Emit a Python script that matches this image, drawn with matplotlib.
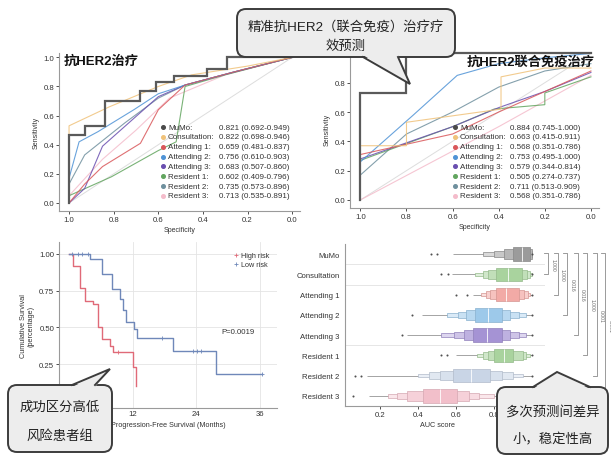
import matplotlib
matplotlib.use('Agg')
import matplotlib.pyplot as plt
from matplotlib.patches import FancyBboxPatch, Polygon
from matplotlib.lines import Line2D
from matplotlib.ticker import FormatStrFormatter
import numpy as np

plt.rcParams['font.family'] = ['Liberation Sans', 'Noto Sans CJK SC', 'DejaVu Sans']

# ------------------------------------------------------------------ data
roc_names = ["MuMo:", "Consultation:", "Attending 1:", "Attending 2:", "Attending 3:",
             "Resident 1:", "Resident 2:", "Resident 3:"]
auc_her2 = ["0.821 (0.692-0.949)", "0.822 (0.698-0.946)", "0.659 (0.481-0.837)",
            "0.756 (0.610-0.903)", "0.683 (0.507-0.860)", "0.602 (0.409-0.796)",
            "0.735 (0.573-0.896)", "0.713 (0.535-0.891)"]
auc_combo = ["0.884 (0.745-1.000)", "0.663 (0.415-0.911)", "0.568 (0.351-0.786)",
             "0.753 (0.495-1.000)", "0.579 (0.344-0.814)", "0.505 (0.274-0.737)",
             "0.711 (0.513-0.909)", "0.568 (0.351-0.786)"]
roc_colors = ['#4a4a4a', '#f0c27a', '#d9575a', '#4f93d6', '#6a4fb0', '#62a55f', '#6f909e', '#f4bccb']

# anti-HER2 panel (specificity, sensitivity)
h_mumo_sp = [1, 1, 0.93, 0.93, 0.84, 0.84, 0.68, 0.68, 0.61, 0.61, 0.53, 0.53, 0.38, 0.38, 0.29, 0.29, 0.0]
h_mumo_se = [0, 0.47, 0.47, 0.53, 0.53, 0.70, 0.70, 0.77, 0.77, 0.83, 0.83, 0.87, 0.87, 0.92, 0.92, 1.0, 1.0]
h_cons_sp = [1, 1, 0.82, 0.60, 0.45, 0.20, 0.0]
h_cons_se = [0, 0.53, 0.66, 0.80, 0.88, 0.94, 1.0]
h_att1_sp = [1, 0.93, 0.85, 0.68, 0.60, 0.48, 0.26, 0.0]
h_att1_se = [0, 0.13, 0.25, 0.41, 0.64, 0.81, 0.90, 1.0]
h_att2_sp = [1, 1, 0.955, 0.87, 0.71, 0.60, 0.48, 0.26, 0.0]
h_att2_se = [0, 0.17, 0.42, 0.49, 0.64, 0.75, 0.81, 0.90, 1.0]
h_att3_sp = [1, 0.93, 0.85, 0.60, 0.48, 0.26, 0.0]
h_att3_se = [0, 0.10, 0.39, 0.73, 0.81, 0.90, 1.0]
h_res1_sp = [1, 0.81, 0.60, 0.52, 0.48, 0.30, 0.0]
h_res1_se = [0.05, 0.18, 0.36, 0.42, 0.80, 0.88, 1.0]
h_res2_sp = [1, 0.93, 0.75, 0.60, 0.48, 0.26, 0.0]
h_res2_se = [0.13, 0.33, 0.55, 0.72, 0.81, 0.90, 1.0]
h_res3_sp = [1, 0.85, 0.70, 0.55, 0.30, 0.0]
h_res3_se = [0.05, 0.30, 0.50, 0.72, 0.88, 1.0]

# anti-HER2 + immunotherapy panel
c_mumo_sp = [1, 1, 0.8, 0.8, 0.0]
c_mumo_se = [0, 0.73, 0.73, 1.0, 1.0]
c_cons_sp = [1, 0.8, 0.8, 0.39, 0.39, 0.2, 0.0]
c_cons_se = [0.37, 0.37, 0.53, 0.62, 0.84, 0.90, 0.90]
c_att1_sp = [1, 0.6, 0.4, 0.2, 0.0]
c_att1_se = [0.31, 0.45, 0.60, 0.74, 0.88]
c_att2_sp = [1, 0.77, 0.58, 0.4, 0.2, 0.0]
c_att2_se = [0.26, 0.58, 0.85, 0.93, 0.97, 1.0]
c_att3_sp = [1, 0.8, 0.6, 0.4, 0.2, 0.0]
c_att3_se = [0.28, 0.39, 0.50, 0.63, 0.74, 0.87]
c_res1_sp = [1, 0.6, 0.42, 0.2, 0.2, 0.0]
c_res1_se = [0.27, 0.50, 0.62, 0.65, 0.73, 0.84]
c_res2_sp = [1, 0.8, 0.6, 0.4, 0.2, 0.0]
c_res2_se = [0.17, 0.45, 0.60, 0.77, 0.88, 0.93]
c_res3_sp = [1, 0.7, 0.4, 0.0]
c_res3_se = [0.0, 0.25, 0.50, 0.85]

# Kaplan-Meier
low_t = [0, 4.0, 6.2, 8.1, 9.6, 10.2, 10.8, 12.3, 12.8, 19.7, 27.7, 36.5]
low_s = [1.0, 0.966, 0.86, 0.76, 0.69, 0.62, 0.535, 0.49, 0.43, 0.342, 0.184, 0.184]
low_cens_t = [0.6, 1.6, 2.5, 3.5, 17.5, 23.4, 24.1, 25.0, 36.5]
low_cens_s = [1.0, 1.0, 1.0, 1.0, 0.43, 0.342, 0.342, 0.342, 0.184]
high_t = [0, 0.8, 2.1, 3.0, 4.5, 5.5, 6.2, 7.7, 8.3, 12.0, 12.7]
high_s = [1.0, 0.92, 0.77, 0.68, 0.66, 0.50, 0.42, 0.375, 0.335, 0.23, 0.10]
high_cens_t = [9.2]
high_cens_s = [0.335]
km_xticks = [12, 24, 36]
km_yticks = [0.25, 0.5, 0.75, 1.0]

# boxen (letter value) summaries of AUC scores
box_cats = ["MuMo", "Consultation", "Attending 1", "Attending 2", "Attending 3",
            "Resident 1", "Resident 2", "Resident 3"]
box_colors = ['#9b9b9b', '#a9d39e', '#f2aaa6', '#9dc9ea', '#a593d4', '#a9d39e', '#c9d5e6', '#f2bfca']
box_median = [0.945, 0.875, 0.865, 0.77, 0.765, 0.85, 0.68, 0.516]
lv1_lo = [0.90, 0.81, 0.81, 0.70, 0.69, 0.80, 0.586, 0.428]
lv1_hi = [0.99, 0.945, 0.93, 0.84, 0.84, 0.90, 0.78, 0.604]
lv2_lo = [0.85, 0.77, 0.78, 0.655, 0.64, 0.77, 0.515, 0.34]
lv2_hi = [1.0, 0.975, 0.96, 0.885, 0.885, 0.95, 0.84, 0.67]
lv3_lo = [0.80, 0.74, 0.76, 0.61, 0.59, 0.74, 0.46, 0.29]
lv3_hi = [1.0, 0.99, 0.98, 0.93, 0.93, 0.97, 0.90, 0.72]
lv4_lo = [0.74, 0.70, 0.73, 0.55, 0.52, 0.71, 0.40, 0.24]
lv4_hi = [1.0, 1.0, 0.99, 0.97, 0.97, 0.99, 0.95, 0.80]
whisk_lo = [0.585, 0.58, 0.69, 0.42, 0.34, 0.60, 0.13, 0.14]
whisk_hi = [1.0, 1.0, 1.0, 1.0, 1.0, 1.0, 1.0, 0.98]
outliers = [[0.47, 0.50], [0.52, 0.56], [0.60, 0.66], [0.367], [0.314],
            [0.52, 0.55], [0.068, 0.10], [0.06]]
pair_targets = [1, 2, 3, 4, 5, 6, 7]
pair_pvals = ["1.000", "1.000", "0.016", "0.016", "1.000", "0.001", "0.001"]

# ------------------------------------------------------------------ figure
W, H = 611, 456
fig = plt.figure(figsize=(W / 100, H / 100), dpi=100)


def rect(l, t, r, b):
    return [l / W, 1 - b / H, (r - l) / W, (b - t) / H]


def fpx(x, y):
    return x / W, 1 - y / H


GRAY = '#9a9a9a'
TXT = '#333333'


def style_axes(ax):
    for s in ['top', 'right']:
        ax.spines[s].set_visible(False)
    for s in ['left', 'bottom']:
        ax.spines[s].set_color(GRAY)
        ax.spines[s].set_linewidth(0.8)
    ax.tick_params(labelsize=5.6, colors=TXT, length=2, width=0.6, pad=1.5)
    for lab in ax.get_xticklabels() + ax.get_yticklabels():
        lab.set_color(TXT)


def roc_panel(rc, curves, legend_vals, leg_x, title, title_xy):
    ax = fig.add_axes(rc)
    ax.plot([1, 0], [0, 1], color='#dddddd', lw=0.7, zorder=1)
    for k in range(len(curves) - 1, -1, -1):
        sp, se = curves[k]
        lw = 1.6 if k == 0 else 0.8
        col = '#5a5a5a' if k == 0 else roc_colors[k]
        ax.plot(sp, se, color=col, lw=lw, alpha=1 if k == 0 else 0.85, zorder=3 if k == 0 else 2,
                solid_joinstyle='miter')
    ax.set_xlim(1.045, -0.035)
    ax.set_ylim(-0.055, 1.03)
    ax.set_xticks([1.0, 0.8, 0.6, 0.4, 0.2, 0.0])
    ax.set_yticks([0.0, 0.2, 0.4, 0.6, 0.8, 1.0])
    ax.xaxis.set_major_formatter(FormatStrFormatter('%.1f'))
    ax.yaxis.set_major_formatter(FormatStrFormatter('%.1f'))
    style_axes(ax)
    ax.set_xlabel('Specificity', fontsize=5, color=TXT, labelpad=2)
    ax.set_ylabel('Sensitivity', fontsize=5, color=TXT, labelpad=3)
    mx, nx, vx = leg_x
    for i in range(len(roc_names)):
        y = 128 + 9.85 * i
        fig.add_artist(Line2D([fpx(mx, y)[0]], [fpx(mx, y)[1]], marker='o', ms=2.6,
                              color=roc_colors[i], lw=0))
        fig.text(*fpx(nx, y), roc_names[i], fontsize=5.8, color=TXT, va='center', ha='left')
        fig.text(*fpx(vx, y), legend_vals[i], fontsize=5.8, color=TXT, va='center', ha='left')
    fig.text(*fpx(*title_xy), title, fontsize=9.5, fontweight='bold', color='#111111',
             va='center', ha='left')
    return ax


her2_curves = [(h_mumo_sp, h_mumo_se), (h_cons_sp, h_cons_se), (h_att1_sp, h_att1_se),
               (h_att2_sp, h_att2_se), (h_att3_sp, h_att3_se), (h_res1_sp, h_res1_se),
               (h_res2_sp, h_res2_se), (h_res3_sp, h_res3_se)]
combo_curves = [(c_mumo_sp, c_mumo_se), (c_cons_sp, c_cons_se), (c_att1_sp, c_att1_se),
                (c_att2_sp, c_att2_se), (c_att3_sp, c_att3_se), (c_res1_sp, c_res1_se),
                (c_res2_sp, c_res2_se), (c_res3_sp, c_res3_se)]

roc_panel(rect(59, 54, 300, 212), her2_curves, auc_her2, (163, 168, 219),
          '抗HER2治疗', (64, 62))
roc_panel(rect(350, 50, 599, 209), combo_curves, auc_combo, (455, 460, 510),
          '抗HER2联合免疫治疗', (467, 62))

# ------------------------------------------------------------------ KM
axk = fig.add_axes(rect(59, 243, 277, 409))
axk.grid(True, color='#e4e4e4', lw=0.6)
axk.set_axisbelow(True)
axk.step(high_t, high_s, where='post', color='#e06a78', lw=1.0)
axk.step(low_t, low_s, where='post', color='#6f88b9', lw=1.0)
axk.plot(high_cens_t, high_cens_s, '+', color='#e06a78', ms=3, mew=0.6)
axk.plot(low_cens_t, low_cens_s, '+', color='#6f88b9', ms=3, mew=0.6)
axk.set_xlim(-1.9, 39.3)
axk.set_ylim(-0.048, 1.08)
axk.set_xticks(km_xticks)
axk.set_yticks(km_yticks)
axk.yaxis.set_major_formatter(FormatStrFormatter('%.2f'))
style_axes(axk)
axk.tick_params(axis='x', length=0)
axk.set_xlabel('Progression-Free Survival (Months)', fontsize=5.2, color=TXT, labelpad=3)
axk.set_ylabel('Cumulative Survival\n(percentage)', fontsize=5.2, color=TXT, labelpad=3)
axk.text(32, 0.47, 'P=0.0019', fontsize=5.6, color=TXT, ha='center', va='center')
hl = [Line2D([], [], marker='+', color='#e06a78', lw=0, ms=3, mew=0.6),
      Line2D([], [], marker='+', color='#6f88b9', lw=0, ms=3, mew=0.6)]
axk.legend(hl, ['High risk', 'Low risk'], loc='upper right', bbox_to_anchor=(0.985, 0.965),
           fontsize=5.2, frameon=False, handlelength=0.6, handletextpad=0.4, labelspacing=0.3,
           borderpad=0.1, labelcolor=TXT)

# ------------------------------------------------------------------ boxen
axb = fig.add_axes(rect(345, 245, 545, 407))


def blend(c, f):
    c = np.array(matplotlib.colors.to_rgb(c))
    return tuple(c + (1 - c) * f)


def darker(c, f):
    c = np.array(matplotlib.colors.to_rgb(c))
    return tuple(c * (1 - f))


for y in [0.5, 1.5, 4.5]:
    axb.axhline(y, color='#e2e2e2', lw=0.6, zorder=0)

levels = [(lv4_lo, lv4_hi, 0.18, 0.62), (lv3_lo, lv3_hi, 0.32, 0.45),
          (lv2_lo, lv2_hi, 0.48, 0.28), (lv1_lo, lv1_hi, 0.66, 0.0)]
for i in range(len(box_cats)):
    col = box_colors[i]
    axb.hlines(i, whisk_lo[i], whisk_hi[i], color='#808080', lw=0.5, zorder=1)
    for z, (lo, hi, h, f) in enumerate(levels):
        axb.barh(i, hi[i] - lo[i], left=lo[i], height=h, color=blend(col, f),
                 edgecolor=darker(col, 0.12), lw=0.5, zorder=2 + z)
    axb.vlines(box_median[i], i - 0.33, i + 0.33, color='white', lw=0.7, alpha=0.85, zorder=8)
    axb.scatter(outliers[i], [i] * len(outliers[i]), s=2.2, color='#505050', lw=0, zorder=6)
    axb.scatter([whisk_hi[i]], [i], s=2.2, color='#505050', lw=0, zorder=6)

axb.set_xlim(0.016, 1.068)
axb.set_ylim(7.5, -0.5)
axb.set_yticks(range(len(box_cats)))
axb.set_yticklabels(box_cats)
axb.set_xticks([0.2, 0.4, 0.6, 0.8])
axb.xaxis.set_major_formatter(FormatStrFormatter('%.1f'))
style_axes(axb)
axb.tick_params(axis='y', length=0, pad=4)
axb.set_xlabel('AUC score', fontsize=5.2, color=TXT, labelpad=3)
axb.xaxis.set_label_coords(0.46, -0.09)

br_x = [1.085, 1.135, 1.185, 1.24, 1.29, 1.34, 1.385]
for k, tgt in enumerate(pair_targets):
    x = br_x[k]
    axb.plot([x - 0.02, x, x, x - 0.02], [-0.08, -0.08, tgt, tgt], color='#8a8a8a', lw=0.6,
             clip_on=False)
    axb.text(x + 0.012, tgt / 2.0, pair_pvals[k], rotation=270, fontsize=3.6, color='#6a6a6a',
             ha='left', va='center', clip_on=False)

# ------------------------------------------------------------------ callouts


def bubble(x0, y0, x1, y1, base, tip, lines, line_y, fs=10):
    tr = fig.dpi_scale_trans

    def P(x, y):
        return (x / 100.0, (H - y) / 100.0)

    bx, by = P(x0, y1)
    box = FancyBboxPatch((bx, by), (x1 - x0) / 100.0, (y1 - y0) / 100.0,
                         boxstyle='round,pad=0,rounding_size=0.09', transform=tr,
                         facecolor='#ededed', edgecolor='#3c3c3c', lw=1.4, zorder=20)
    fig.add_artist(box)
    (bx1, by1), (bx2, by2) = base
    edge_y = by1
    inset = 2 if tip[1] > edge_y else -2
    poly = Polygon([P(bx1, edge_y - inset), P(*tip), P(bx2, edge_y - inset)], closed=True,
                   transform=tr, facecolor='#ededed', edgecolor='none', zorder=21)
    fig.add_artist(poly)
    xs = [P(bx1, by1)[0], P(*tip)[0], P(bx2, by2)[0]]
    ys = [P(bx1, by1)[1], P(*tip)[1], P(bx2, by2)[1]]
    fig.add_artist(Line2D(xs, ys, transform=tr, color='#3c3c3c', lw=1.4, zorder=22,
                          solid_joinstyle='miter'))
    cx = (x0 + x1) / 2.0
    for txt, ty in zip(lines, line_y):
        fig.text(*fpx(cx, ty), txt, fontsize=fs, color='#222222', ha='center', va='center',
                 zorder=23)


bubble(237, 10, 455, 58, ((363, 58), (398, 58)), (410, 85),
       ['精准抗HER2（联合免疫）治疗疗', '效预测'], [27, 47], fs=9.6)
bubble(8, 386, 112, 453, ((72, 386), (95, 386)), (110, 370),
       ['成功区分高低', '风险患者组'], [408, 436], fs=9.6)
bubble(497, 388, 608, 455, ((533, 388), (590, 388)), (557, 373),
       ['多次预测间差异', '小，稳定性高'], [412, 440], fs=9.6)

fig.savefig('out.png', dpi=100)
